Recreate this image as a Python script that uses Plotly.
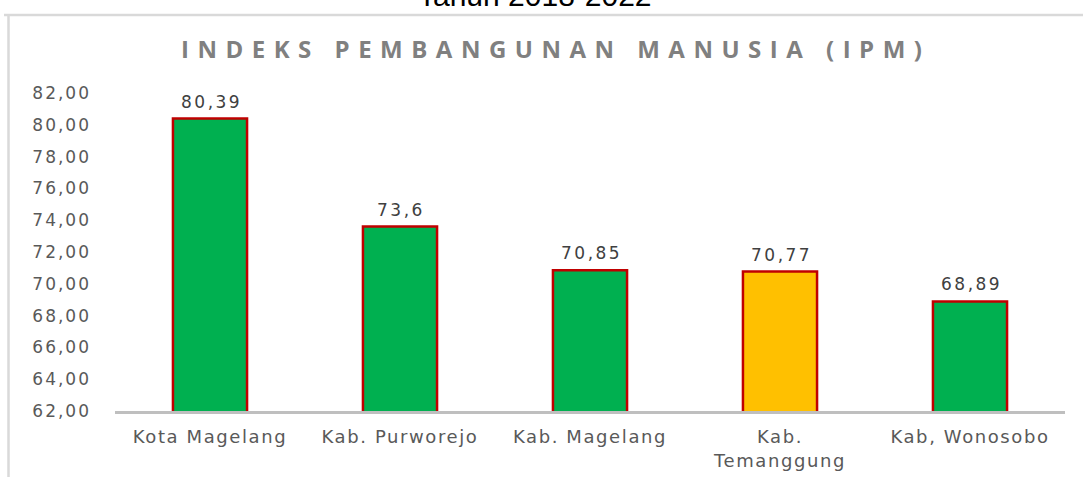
import plotly.graph_objects as go

categories = ["Kota Magelang", "Kab. Purworejo", "Kab. Magelang", "Kab.<br>Temanggung", "Kab, Wonosobo"]
values = [80.39, 73.6, 70.85, 70.77, 68.89]
value_labels = ["80,39", "73,6", "70,85", "70,77", "68,89"]
bar_colors = ["#00B050", "#00B050", "#00B050", "#FFC000", "#00B050"]
tick_vals = [62, 64, 66, 68, 70, 72, 74, 76, 78, 80, 82]
tick_text = [f"{v:.2f}".replace(".", ",") for v in tick_vals]
chart_title = "INDEKS PEMBANGUNAN MANUSIA (IPM)"
page_heading = "Tahun 2018-2022"

W, H = 1083, 477
L, R, T, B = 115, 18, 93, 66
PW, PH = W - L - R, H - T - B


def px_x(x):
    return (x - L) / PW


def px_y(y):
    return (H - B - y) / PH


def spaced(s, sp):
    return f'<span style="letter-spacing:{sp}px">{s}</span>'


fig = go.Figure()
fig.add_trace(go.Bar(
    x=categories, y=values,
    marker=dict(color=bar_colors, line=dict(color="#C00000", width=2.5)),
    width=0.39, showlegend=False, hoverinfo="x+y",
))

for c, v, t in zip(categories, values, value_labels):
    fig.add_annotation(x=c, y=v, text=spaced(t, 2.5), showarrow=False, yanchor="bottom", yshift=5,
                       xshift=1,
                       font=dict(family="DejaVu Sans", size=17, color="#404040"))

# chart title
fig.add_annotation(xref="paper", yref="paper", x=px_x(555), y=px_y(48.5),
                   text=spaced(chart_title, 8.5), showarrow=False,
                   xanchor="center", yanchor="middle",
                   font=dict(family="Open Sans", size=24, color="#808080", weight=700))
# top (clipped) heading
fig.add_annotation(xref="paper", yref="paper", x=px_x(535), y=px_y(-5),
                   text=page_heading, showarrow=False,
                   xanchor="center", yanchor="middle",
                   font=dict(family="Liberation Sans", size=30, color="#000000"))

# chart area border
fig.add_shape(type="line", xref="paper", yref="paper",
              x0=px_x(4), x1=1.2, y0=px_y(15), y1=px_y(15),
              line=dict(color="#D9D9D9", width=2.5))
fig.add_shape(type="line", xref="paper", yref="paper",
              x0=px_x(8.5), x1=px_x(8.5), y0=px_y(15), y1=-0.5,
              line=dict(color="#D9D9D9", width=2.5))

fig.update_layout(
    width=W, height=H,
    margin=dict(l=L, r=R, t=T, b=B, autoexpand=False),
    paper_bgcolor="white", plot_bgcolor="white",
    xaxis=dict(showline=True, linecolor="#BFBFBF", linewidth=2.5, showgrid=False,
               tickvals=categories, ticktext=[spaced(c, 1.6) for c in categories],
               tickfont=dict(family="DejaVu Sans", size=18, color="#595959"),
               ticks="", ticklabelstandoff=8),
    yaxis=dict(range=[62, 82], tickvals=tick_vals, ticktext=[spaced(t, 2) for t in tick_text],
               showgrid=False, showline=False, zeroline=False, ticks="",
               tickfont=dict(family="DejaVu Sans", size=17, color="#595959"),
               ticklabelstandoff=23),
)

fig.write_html("out.html", config={"displayModeBar": False},
               post_script="document.body.style.margin='0';")
